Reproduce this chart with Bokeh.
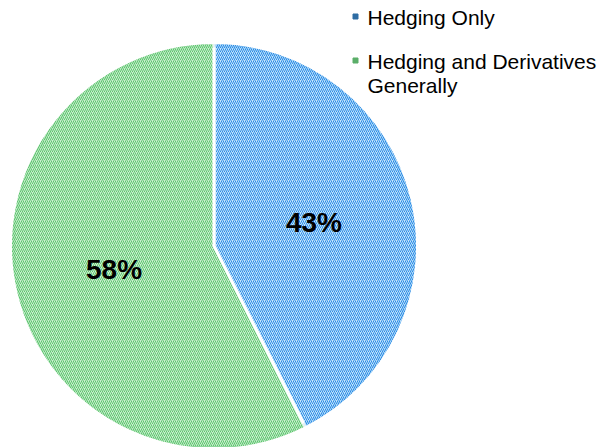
import math
from bokeh.plotting import figure
from bokeh.models import Range1d, ColumnDataSource
from bokeh.core.properties import value
from bokeh.embed import file_html
from bokeh.resources import INLINE

# ---- data ----
categories = ["Hedging Only", "Hedging and Derivatives\nGenerally"]
shares = [43, 58]
labels = ["43%", "58%"]
fill_colors = ["#C3E4FB", "#CBEFCF"]
hatch_colors = ["#2B8BE6", "#5EC56F"]
marker_colors = ["#2F6CA3", "#5BAE69"]

W, H = 599, 447
p = figure(width=W, height=H, output_backend="svg", toolbar_location=None,
           x_range=Range1d(0, W), y_range=Range1d(0, H),
           x_axis_type=None, y_axis_type=None, min_border=0)
p.outline_line_color = None
p.grid.visible = False
p.background_fill_color = "white"
p.border_fill_color = "white"

# pie geometry (screen y measured downwards, converted to y-up)
cx, cy, R = 213.5, H - 245.5, 203.5
total = sum(shares)
starts, ends, mids = [], [], []
cur = math.pi / 2
for s in shares:
    ang = 2 * math.pi * s / total
    starts.append(cur - ang)
    ends.append(cur)
    mids.append(cur - ang / 2)
    cur -= ang

src = ColumnDataSource(dict(x=[cx] * 2, y=[cy] * 2, start=starts, end=ends,
                            fill=fill_colors, hatch=hatch_colors))
p.wedge(x="x", y="y", radius=R, start_angle="start", end_angle="end",
        source=src, fill_color="fill", line_color="white", line_width=3,
        hatch_pattern="/", hatch_color="hatch", hatch_scale=4, hatch_weight=1)
# subtle inner edge shading
p.annular_wedge(x="x", y="y", inner_radius=R - 5, outer_radius=R - 1.5,
                start_angle="start", end_angle="end", source=src,
                fill_color="hatch", fill_alpha=0.15, line_color=None)

# percentage labels
lr = 0.505 * R
p.text(x=[cx + lr * math.cos(m) for m in mids], y=[cy + lr * math.sin(m) for m in mids],
       text=labels, text_font=value("Liberation Sans"), text_font_style="bold",
       text_font_size="28px", text_align="center", text_baseline="middle",
       text_color="#000000")

# legend
lx, fs, lh = 355, 21, 24
entry_y = H - 17
for cat, mc in zip(categories, marker_colors):
    lines = cat.split("\n")
    p.scatter(x=[lx], y=[entry_y + 1], marker="square", size=5,
              fill_color=mc, line_color=mc)
    p.text(x=[lx + 12] * len(lines), y=[entry_y - i * lh for i in range(len(lines))],
           text=lines, text_font=value("Liberation Sans"), text_font_size=f"{fs}px",
           text_align="left", text_baseline="middle", text_color="#000000")
    entry_y -= 44 + (len(lines) - 1) * lh

open("out.html", "w").write(file_html(p, INLINE))
